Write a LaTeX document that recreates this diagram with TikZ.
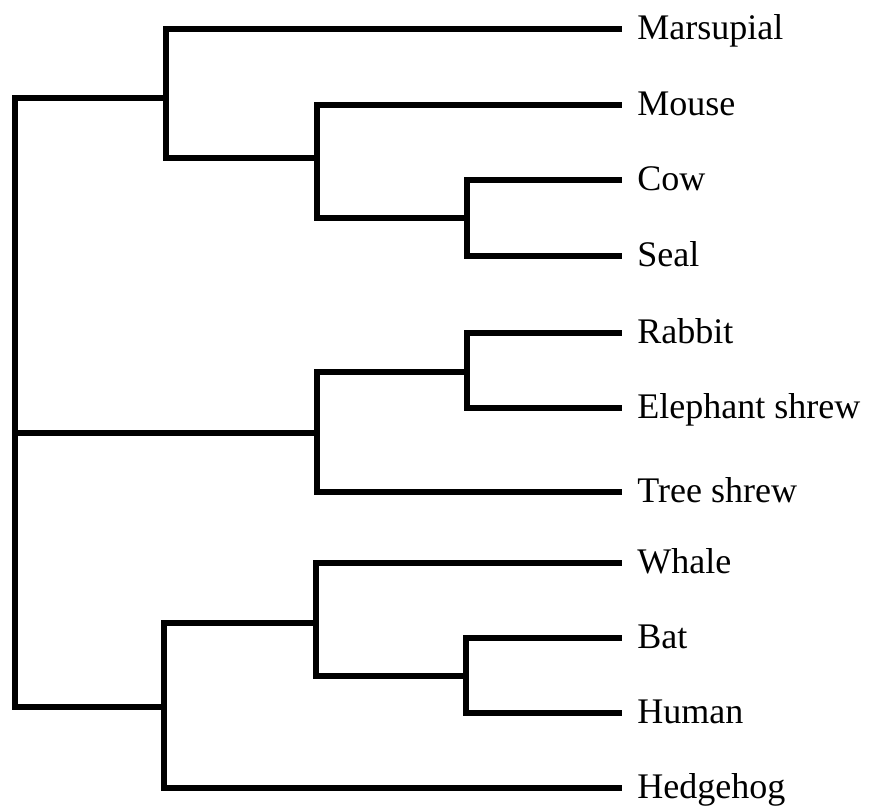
\documentclass[tikz,border=0pt]{standalone}
\usepackage{fontspec}
\setmainfont{Liberation Serif}
\usepackage{tikz}
\usetikzlibrary{positioning}

\begin{document}
\begin{tikzpicture}[x=0.02cm, y=-0.02cm,
    branch/.style={line width=0.11cm, line join=miter},
    taxon/.style={font=\fontsize{20.5}{24}\selectfont, inner sep=0pt,
                  text height=16.4pt, text depth=4.5pt}]
  \useasboundingbox (0,0) rectangle (871,810);

  % Leaf tips and their names
  \foreach \name/\y/\txt in {marsupial/29/Marsupial, mouse/105/Mouse,
      cow/180/Cow, seal/256/Seal, rabbit/333/Rabbit,
      eshrew/408/Elephant shrew, tshrew/492/Tree shrew, whale/563/Whale,
      bat/638/Bat, human/713/Human, hedgehog/788/Hedgehog} {
    \coordinate (\name) at (622,\y);
    \node[taxon, right=0.3cm of \name] (\name-lbl) {\txt};
  }

  % Inner nodes (where each joins its parent)
  \coordinate (root) at (15,433);
  \coordinate (a) at (166,98);
  \coordinate (b) at (317,158);
  \coordinate (c) at (467,218);
  \coordinate (d) at (317,433);
  \coordinate (e) at (467,372);
  \coordinate (g) at (164,707);
  \coordinate (h) at (316,623);
  \coordinate (i) at (466,676);

  % Branches
  \draw[branch] (root) |- (a);
  \draw[branch] (root) -- (d);
  \draw[branch] (root) |- (g);

  \draw[branch] (a) |- (marsupial);
  \draw[branch] (a) |- (b);
  \draw[branch] (b) |- (mouse);
  \draw[branch] (b) |- (c);
  \draw[branch] (c) |- (cow);
  \draw[branch] (c) |- (seal);

  \draw[branch] (d) |- (e);
  \draw[branch] (d) |- (tshrew);
  \draw[branch] (e) |- (rabbit);
  \draw[branch] (e) |- (eshrew);

  \draw[branch] (g) |- (h);
  \draw[branch] (g) |- (hedgehog);
  \draw[branch] (h) |- (whale);
  \draw[branch] (h) |- (i);
  \draw[branch] (i) |- (bat);
  \draw[branch] (i) |- (human);

\end{tikzpicture}
\end{document}
